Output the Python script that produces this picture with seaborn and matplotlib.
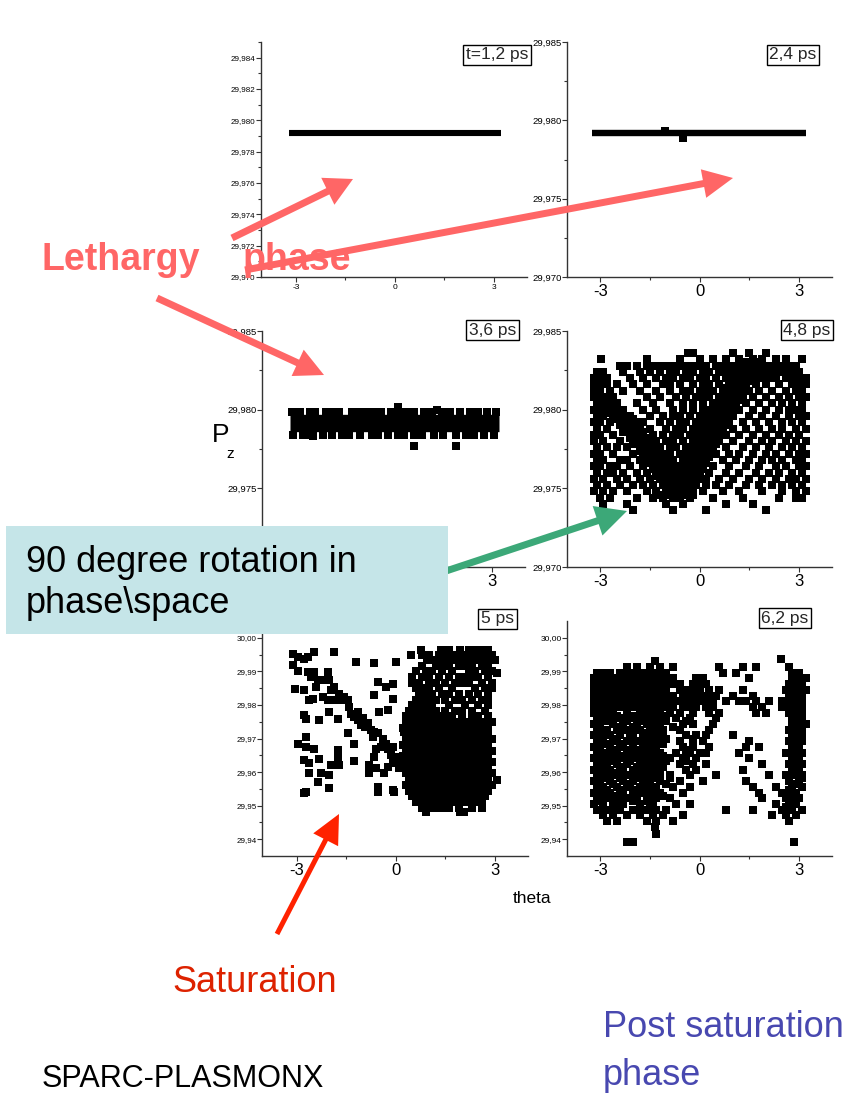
import matplotlib
matplotlib.use("Agg")
import matplotlib.pyplot as plt
import seaborn as sns
from matplotlib.patches import Rectangle, FancyArrow
from matplotlib.ticker import FixedLocator, FuncFormatter

# ---------------- data ----------------
X_TICKS = [-3, 0, 3]
X_MINOR = [-1.5, 1.5]
Y_TICKS_12 = [29.970, 29.972, 29.974, 29.976, 29.978, 29.980, 29.982, 29.984]
Y_MINOR_12 = [29.971, 29.973, 29.975, 29.977, 29.979, 29.981, 29.983, 29.985]
Y_TICKS_MID = [29.970, 29.975, 29.980, 29.985]
Y_MINOR_MID = [29.9725, 29.9775, 29.9825]
Y_TICKS_LOW = [29.94, 29.95, 29.96, 29.97, 29.98, 29.99, 30.00]
Y_MINOR_LOW = [29.945, 29.955, 29.965, 29.975, 29.985, 29.995]

LABELS = ["t=1,2 ps", "2,4 ps", "3,6 ps", "4,8 ps", "5 ps", "6,2 ps"]

# t = 1.2 ps : thin line of particles
theta_12 = [-3.2, 3.2]
pz_12 = [29.9792, 29.9792]

# t = 2.4 ps
theta_24 = [-3.25, 3.22]
pz_24 = [29.9792, 29.9792]
theta_24_pts = [-1.05, -0.5]
pz_24_pts = [29.97935, 29.9789]

# t = 3.6 ps : band
theta_36 = [-3.2, 3.2]
pz_36 = [29.97915, 29.97915]
band_top_theta = [-3.15, -2.9, -2.6, -2.45, -2.1, -1.95, -1.7, -1.3, -1.1, -0.85, -0.6,
                  -0.4, -0.1, 0.12, 0.35, 0.6, 0.9, 1.15, 1.45, 1.7, 2.0, 2.3, 2.55, 2.85, 3.1]
band_top_pz = 29.97985
band_bot_theta = [-3.1, -2.8, -2.55, -2.2, -1.9, -1.6, -1.4, -1.05, -0.7, -0.5, -0.2, 0.1,
                  0.3, 0.6, 0.85, 1.2, 1.5, 1.9, 2.2, 2.45, 2.75, 3.05]
band_bot_pz = 29.97840
out36_theta = [0.12, 0.6, 1.9, -2.5, 1.3]
out36_pz = [29.98015, 29.9777, 29.9777, 29.9783, 29.9800]

# t = 4.8 ps : rows of particles (pz -> theta)
ROWS_48 = {
    29.9836: [-0.35, -0.2, 1.0, 1.5, 2.0],
    29.9832: [-2.98, -1.6, -0.6, 0.0, 0.4, 0.8, 1.2, 1.6, 1.9, 2.3, 2.6, 3.1],
    29.9828: [-2.4, -2.2, -1.9, -1.6, -1.4, -1.2, -1.0, -0.8, -0.6, -0.4, -0.2, 0.0, 0.2,
              0.5, 0.7, 0.9, 1.1, 1.3, 1.5, 1.7, 1.9, 2.1, 2.3, 2.5, 2.7, 2.9],
    29.9824: [-3.1, -2.9, -2.3, -1.8, -1.5, -1.2, -0.9, -0.7, -0.4, -0.2, 0.1, 0.3, 0.6,
              0.8, 1.0, 1.2, 1.4, 1.6, 1.8, 2.0, 2.2, 2.4, 2.6, 2.8, 3.0],
    29.9820: [-3.2, -3.0, -2.8, -2.1, -1.7, -1.3, -1.0, -0.8, -0.5, -0.3, 0.0, 0.2, 0.5,
              0.8, 1.0, 1.3, 1.5, 1.7, 1.9, 2.1, 2.3, 2.6, 2.8, 3.0, 3.2],
    29.9816: [-3.2, -3.0, -2.8, -2.5, -2.0, -1.6, -1.1, -0.9, -0.6, -0.2, 0.1, 0.3, 0.6,
              0.9, 1.1, 1.4, 1.7, 2.0, 2.4, 2.8, 3.0, 3.2],
    29.9812: [-3.2, -3.0, -2.7, -2.3, -1.8, -1.3, -0.9, -0.5, -0.3, 0.0, 0.2, 0.4, 0.7,
              0.9, 1.2, 1.5, 1.8, 2.2, 2.6, 2.9, 3.1],
    29.9808: [-3.2, -3.0, -2.8, -2.6, -1.6, -1.2, -0.7, -0.4, -0.1, 0.1, 0.3, 0.6, 0.8,
              1.0, 1.3, 1.6, 2.0, 2.4, 2.7, 3.0, 3.2],
    29.9804: [-3.1, -2.9, -2.7, -2.5, -1.9, -1.4, -0.9, -0.5, -0.2, 0.1, 0.4, 0.6, 0.9,
              1.1, 1.4, 1.8, 2.2, 2.5, 2.8, 3.1],
    29.9800: [-3.2, -3.0, -2.8, -2.5, -2.3, -1.7, -1.3, -0.8, -0.5, -0.2, 0.1, 0.3, 0.5,
              0.8, 1.2, 1.6, 2.0, 2.4, 2.7, 2.9, 3.1],
    29.9796: [-3.1, -2.9, -2.6, -2.3, -2.1, -1.5, -1.1, -0.8, -0.6, -0.3, 0.0, 0.2, 0.4,
              0.7, 1.0, 1.5, 1.9, 2.3, 2.7, 3.0, 3.2],
    29.9792: [-3.2, -3.0, -2.7, -2.2, -1.9, -1.7, -1.2, -0.9, -0.6, -0.4, -0.1, 0.1, 0.3,
              0.6, 0.9, 1.3, 1.7, 2.1, 2.5, 2.8, 3.1],
    29.9788: [-3.1, -2.8, -2.1, -1.8, -1.5, -1.0, -0.7, -0.5, -0.2, 0.0, 0.2, 0.5, 1.0,
              1.4, 1.8, 2.2, 2.5, 2.9, 3.2],
    29.9784: [-3.2, -3.0, -2.6, -2.0, -1.7, -1.4, -1.1, -0.8, -0.6, -0.3, -0.1, 0.1, 0.4,
              0.8, 1.2, 1.6, 2.0, 2.4, 2.7, 3.0],
    29.9780: [-3.2, -2.9, -2.4, -1.9, -1.5, -1.3, -1.0, -0.8, -0.5, -0.2, 0.0, 0.3, 0.6,
              1.0, 1.5, 1.9, 2.2, 2.6, 2.9, 3.2],
    29.9776: [-3.1, -2.8, -2.5, -2.2, -1.8, -1.4, -1.2, -0.9, -0.7, -0.4, -0.2, 0.1, 0.3,
              0.8, 1.3, 1.7, 2.1, 2.5, 2.8, 3.1],
    29.9772: [-3.2, -3.0, -2.6, -2.0, -1.6, -1.3, -1.1, -0.9, -0.6, -0.4, -0.1, 0.1, 0.5,
              0.9, 1.2, 1.6, 2.0, 2.3, 2.7, 3.0, 3.2],
    29.9768: [-3.1, -2.9, -2.4, -2.2, -1.8, -1.5, -1.2, -1.0, -0.8, -0.5, -0.3, 0.0, 0.2,
              0.7, 1.1, 1.5, 1.9, 2.2, 2.5, 2.9, 3.1],
    29.9764: [-3.2, -3.0, -2.7, -2.5, -2.1, -1.7, -1.4, -1.1, -0.9, -0.7, -0.5, -0.3, -0.1,
              0.1, 0.4, 0.9, 1.4, 1.8, 2.3, 2.6, 3.0, 3.2],
    29.9760: [-3.1, -2.8, -2.6, -2.3, -1.9, -1.6, -1.3, -1.0, -0.8, -0.6, -0.4, -0.2, 0.0,
              0.3, 0.8, 1.2, 1.7, 2.1, 2.4, 2.8, 3.1],
    29.9756: [-3.2, -2.9, -2.5, -2.2, -1.8, -1.5, -1.2, -1.0, -0.8, -0.6, -0.4, -0.2, 0.0,
              0.2, 0.6, 1.0, 1.5, 1.9, 2.3, 2.7, 2.9, 3.2],
    29.9752: [-3.1, -2.8, -2.4, -2.0, -1.7, -1.4, -1.1, -0.9, -0.7, -0.5, -0.3, -0.1, 0.2,
              0.5, 0.9, 1.4, 1.8, 2.2, 2.5, 2.8, 3.1],
    29.9748: [-3.2, -2.9, -2.6, -2.2, -1.6, -1.3, -1.0, -0.8, -0.6, -0.4, -0.2, 0.1, 0.7,
              1.2, 1.9, 2.5, 2.9, 3.2],
    29.9744: [-3.0, -2.7, -1.9, -1.4, -1.1, -0.8, -0.6, -0.3, 0.4, 1.3, 2.4, 2.9, 3.1],
    29.9740: [-2.9, -2.2, -1.0, -0.5, 0.8, 1.6],
    29.9736: [-2.0, -0.8, 0.2, 2.0],
}
# extra particles that form the dense V-shaped arms at t = 4.8 ps
ROWS_48_V = {
    29.9830: [1.2, 1.4, 1.6, 1.8],
    29.9826: [1.1, 1.3, 1.5, 1.7],
    29.9822: [1.0, 1.2, 1.4, 1.6],
    29.9818: [0.9, 1.1, 1.3, 1.5],
    29.9814: [0.8, 1.0, 1.2, 1.4],
    29.9810: [0.7, 0.9, 1.1, 1.3],
    29.9806: [0.6, 0.8, 1.0, 1.2],
    29.9802: [-2.6, 0.5, 0.7, 0.9, 1.1],
    29.9798: [-2.7, -2.5, -2.3, 0.4, 0.6, 0.8, 1.0],
    29.9794: [-2.6, -2.4, -2.2, -2.0, 0.3, 0.5, 0.7, 0.9],
    29.9790: [-2.4, -2.2, -2.0, -1.8, 0.2, 0.4, 0.6, 0.8],
    29.9786: [-2.3, -2.1, -1.9, -1.7, 0.1, 0.3, 0.5, 0.7],
    29.9782: [-2.1, -1.9, -1.7, -1.5, 0.0, 0.2, 0.4, 0.6],
    29.9778: [-2.0, -1.8, -1.6, -1.4, -0.1, 0.1, 0.3, 0.5],
    29.9774: [-1.8, -1.6, -1.4, -1.2, -0.2, 0.0, 0.2, 0.4],
    29.9770: [-1.7, -1.5, -1.3, -1.1, -0.3, -0.1, 0.1, 0.3],
    29.9766: [-1.6, -1.4, -1.2, -1.0, -0.4, -0.2, 0.0, 0.2],
    29.9762: [-1.4, -1.2, -1.0, -0.8, -0.5, -0.3, -0.1, 0.1],
    29.9758: [-1.3, -1.1, -0.9, -0.7, -0.5, -0.3, -0.1],
    29.9754: [-1.1, -0.9, -0.7, -0.5, -0.3, -0.1],
    29.9750: [-1.0, -0.8, -0.6, -0.4, -0.2],
    29.9746: [-1.2, -1.0, -0.8, -0.6, -0.4, -0.2],
}

# t = 5 ps : sparse particles on the left + dense bunch on the right
PTS_5 = [(-3.13, 29.9952), (-3.13, 29.9920), (-2.98, 29.9943), (-2.78, 29.9938),
         (-2.68, 29.9943), (-2.47, 29.9957), (-1.87, 29.9957), (-3.05, 29.9846),
         (-2.78, 29.9844), (-2.98, 29.9900), (-2.68, 29.9898), (-2.47, 29.9898),
         (-2.07, 29.9898), (-2.58, 29.9883), (-2.37, 29.9873), (-2.22, 29.9875),
         (-2.02, 29.9873), (-2.42, 29.9853), (-2.52, 29.9819), (-2.63, 29.9816),
         (-2.22, 29.9824), (-2.07, 29.9814), (-1.87, 29.9814), (-1.72, 29.9834),
         (-1.57, 29.9824), (-1.87, 29.9853), (-1.97, 29.9844), (-2.78, 29.9769),
         (-2.73, 29.9759), (-2.32, 29.9754), (-2.02, 29.9779), (-1.77, 29.9759),
         (-1.67, 29.9814), (-1.46, 29.9814), (-1.41, 29.9794), (-1.36, 29.9774),
         (-1.26, 29.9764), (-1.16, 29.9754), (-1.06, 29.9740), (-1.46, 29.9715),
         (-1.26, 29.9685), (-2.73, 29.9705), (-2.98, 29.9683), (-2.73, 29.9675),
         (-2.47, 29.9670), (-1.77, 29.9665), (-1.77, 29.9655), (-2.78, 29.9636),
         (-2.63, 29.9626), (-2.32, 29.9638), (-1.97, 29.9621), (-1.77, 29.9636),
         (-1.72, 29.9621), (-2.02, 29.9591), (-2.27, 29.9596), (-2.63, 29.9596),
         (-2.37, 29.9571), (-2.73, 29.9542), (-2.78, 29.9539), (-2.02, 29.9552),
         (-1.26, 29.9633), (-1.21, 29.9928), (-0.66, 29.9925), (0.00, 29.9928),
         (-0.56, 29.9868), (-0.30, 29.9853), (-0.10, 29.9863), (-0.66, 29.9829),
         (-0.08, 29.9819), (-0.51, 29.9779), (-0.25, 29.9786), (-0.56, 29.9556),
         (-0.56, 29.9542), (-0.10, 29.9547), (-0.05, 29.9542), (-0.86, 29.9745),
         (-0.76, 29.9725), (-0.66, 29.9720), (-0.71, 29.9705), (-0.56, 29.9715),
         (-0.40, 29.9700), (-0.30, 29.9685), (-0.45, 29.9675), (-0.61, 29.9670),
         (-0.25, 29.9670), (-0.10, 29.9675), (-0.66, 29.9646), (-0.81, 29.9621),
         (-0.81, 29.9596), (-0.61, 29.9611), (-0.35, 29.9596), (-0.25, 29.9616),
         (-0.10, 29.9626), (0.05, 29.9646), (0.15, 29.9636), (-0.15, 29.9650),
         (0.10, 29.9611), (-1.16, 29.9780), (-1.00, 29.9760), (-0.95, 29.9735),
         (3.05, 29.9577), (3.05, 29.9895), (0.25, 29.9720), (0.2, 29.9680)]
ROWS_5 = {
    29.9965: [0.75, 1.35, 1.6, 1.95, 2.2, 2.4, 2.6, 2.8],
    29.9950: [0.45, 0.8, 1.0, 1.3, 1.5, 1.7, 1.9, 2.1, 2.3, 2.5, 2.7, 2.9],
    29.9933: [0.95, 1.15, 1.35, 1.55, 1.75, 2.0, 2.2, 2.4, 2.6, 2.8, 3.0],
    29.9916: [0.8, 1.2, 1.4, 1.6, 1.9, 2.1, 2.3, 2.6, 2.8],
    29.9900: [0.6, 0.9, 1.1, 1.4, 1.7, 2.2, 2.4, 2.7, 2.9],
    29.9883: [0.5, 0.8, 1.0, 1.3, 1.6, 1.9, 2.1, 2.3, 2.5, 2.8],
    29.9866: [0.5, 0.7, 1.0, 1.2, 1.5, 1.8, 2.0, 2.2, 2.6, 2.9],
    29.9850: [0.6, 0.8, 1.0, 1.3, 1.7, 2.4, 2.7, 2.9],
    29.9833: [0.7, 0.9, 1.1, 1.4, 1.6, 1.9, 2.2, 2.5, 2.8],
    29.9816: [0.6, 0.8, 1.0, 1.2, 1.5, 1.8, 2.0, 2.3, 2.6, 2.8],
    29.9800: [0.5, 0.7, 0.9, 1.1, 1.6, 2.1, 2.5, 2.8],
    29.9783: [0.4, 0.6, 0.8, 1.0, 1.2, 1.5, 1.8, 2.0, 2.3, 2.7],
    29.9766: [0.3, 0.5, 0.7, 0.9, 1.1, 1.3, 1.5, 1.7, 2.0, 2.3, 2.5, 2.8],
    29.9749: [0.3, 0.5, 0.7, 0.9, 1.1, 1.3, 1.5, 1.7, 1.9, 2.1, 2.3, 2.5, 2.7, 2.9],
    29.9732: [0.2, 0.4, 0.6, 0.8, 1.0, 1.2, 1.4, 1.6, 1.8, 2.0, 2.2, 2.4, 2.6, 2.8],
    29.9715: [0.4, 0.6, 0.8, 1.0, 1.2, 1.4, 1.6, 1.8, 2.0, 2.2, 2.4, 2.6, 2.8],
    29.9698: [0.3, 0.5, 0.7, 0.9, 1.1, 1.3, 1.5, 1.7, 1.9, 2.1, 2.3, 2.5, 2.7, 2.9],
    29.9681: [0.4, 0.6, 0.8, 1.0, 1.2, 1.4, 1.6, 1.8, 2.0, 2.2, 2.4, 2.6, 2.8],
    29.9664: [0.3, 0.5, 0.7, 0.9, 1.1, 1.3, 1.5, 1.7, 1.9, 2.1, 2.3, 2.5, 2.7, 2.9],
    29.9647: [0.2, 0.4, 0.6, 0.8, 1.0, 1.2, 1.4, 1.6, 1.8, 2.0, 2.2, 2.4, 2.6, 2.8],
    29.9630: [0.3, 0.5, 0.7, 0.9, 1.1, 1.3, 1.5, 1.7, 1.9, 2.1, 2.3, 2.5, 2.7, 2.9],
    29.9613: [0.2, 0.4, 0.6, 0.8, 1.0, 1.2, 1.4, 1.6, 1.8, 2.0, 2.2, 2.4, 2.6, 2.8],
    29.9596: [0.3, 0.5, 0.7, 0.9, 1.1, 1.3, 1.5, 1.7, 1.9, 2.1, 2.3, 2.5, 2.7, 2.9],
    29.9579: [0.4, 0.6, 0.8, 1.0, 1.2, 1.4, 1.6, 1.8, 2.0, 2.2, 2.4, 2.6, 2.8],
    29.9562: [0.3, 0.5, 0.7, 0.9, 1.1, 1.3, 1.5, 1.7, 1.9, 2.1, 2.3, 2.5, 2.7, 2.9],
    29.9545: [0.4, 0.6, 0.8, 1.0, 1.2, 1.4, 1.6, 1.8, 2.0, 2.2, 2.4, 2.6, 2.8],
    29.9528: [0.5, 0.7, 0.9, 1.1, 1.3, 1.5, 1.7, 1.9, 2.1, 2.3, 2.5, 2.7],
    29.9511: [0.6, 0.8, 1.0, 1.2, 1.4, 1.6, 1.8, 2.0, 2.2, 2.4, 2.6],
    29.9494: [0.8, 1.0, 1.2, 1.4, 1.6, 1.9, 2.3, 2.6],
    29.9480: [0.9, 1.95, 2.05],
}

# t = 6.2 ps
ROWS_62 = {
    29.9938: [2.45],
    29.9930: [-1.35],
    29.9913: [-2.2, -1.9, -1.5, -1.2, -0.8, 0.6, 1.3, 1.7, 2.7],
    29.9896: [-3.1, -2.9, -2.7, -2.4, -2.2, -2.0, -1.8, -1.6, -1.4, -1.2, -1.0, 0.7, 1.1, 2.8, 3.0],
    29.9879: [-3.2, -3.0, -2.8, -2.6, -2.4, -2.2, -2.0, -1.8, -1.6, -1.4, -1.2, -1.0, -0.8,
              -0.1, 0.1, 1.5, 2.8, 3.0, 3.2],
    29.9862: [-3.2, -3.0, -2.8, -2.6, -2.4, -2.2, -2.0, -1.8, -1.6, -1.4, -1.2, -1.0, -0.8,
              -0.6, -0.2, 0.0, 0.2, 2.7, 2.9, 3.1],
    29.9845: [-3.2, -3.0, -2.8, -2.6, -2.4, -2.2, -2.0, -1.8, -1.6, -1.4, -1.2, -1.0, -0.6,
              -0.4, -0.2, 0.0, 0.3, 0.6, 1.3, 2.6, 2.8, 3.0, 3.2],
    29.9828: [-3.2, -3.0, -2.8, -2.6, -2.4, -2.2, -2.0, -1.8, -1.6, -1.4, -1.2, -1.0, -0.8,
              -0.5, -0.3, -0.1, 0.1, 0.3, 0.5, 1.0, 1.6, 2.7, 2.9, 3.1],
    29.9811: [-3.2, -3.0, -2.8, -2.6, -2.4, -2.2, -2.0, -1.8, -1.6, -1.4, -1.2, -1.0, -0.8,
              -0.6, -0.4, -0.2, 0.0, 0.2, 0.4, 0.8, 1.2, 1.4, 1.7, 2.1, 2.5, 2.7, 2.9, 3.1],
    29.9794: [-3.2, -3.0, -2.8, -2.6, -2.4, -2.2, -2.0, -1.8, -1.6, -1.4, -1.2, -1.0, -0.8,
              -0.5, -0.3, -0.1, 0.2, 0.4, 1.6, 1.9, 2.5, 2.7, 2.9, 3.1],
    29.9777: [-3.2, -3.0, -2.8, -2.6, -2.2, -1.8, -1.6, -1.4, -1.2, -0.9, -0.6, -0.2, 0.3,
              0.6, 1.7, 2.0, 2.7, 2.9, 3.1],
    29.9760: [-3.1, -2.9, -2.7, -2.4, -2.1, -1.7, -1.5, -1.3, -1.1, -0.7, -0.3, 0.5, 2.8, 3.0],
    29.9743: [-3.2, -3.0, -2.6, -2.3, -1.9, -1.6, -1.4, -1.2, -0.5, -0.2, 0.4, 2.8, 3.0, 3.2],
    29.9726: [-3.1, -2.8, -2.5, -2.2, -1.8, -1.5, -1.3, -1.1, -0.6, 0.3, 2.7, 2.9, 3.1],
    29.9709: [-3.2, -3.0, -2.7, -2.4, -2.0, -1.7, -1.5, -1.3, -0.4, -0.1, 0.2, 1.0, 2.8, 3.0],
    29.9692: [-3.1, -2.9, -2.6, -2.2, -1.8, -1.6, -1.4, -1.2, -0.6, 0.1, 1.5, 2.7, 2.9, 3.1],
    29.9675: [-3.2, -3.0, -2.7, -2.4, -2.0, -1.7, -1.5, -1.3, -0.5, -0.2, 0.3, 1.4, 1.8, 2.8, 3.0],
    29.9658: [-3.1, -2.8, -2.5, -2.1, -1.9, -1.6, -1.4, -1.2, -0.7, -0.3, 0.0, 0.2, 1.2,
              2.6, 2.9, 3.1],
    29.9641: [-3.2, -3.0, -2.6, -2.3, -2.0, -1.7, -1.5, -1.3, -0.9, -0.5, -0.1, 1.5, 2.8, 3.0],
    29.9624: [-3.1, -2.9, -2.5, -2.2, -1.8, -1.6, -1.4, -1.2, -0.6, -0.2, 0.2, 1.9, 2.7,
              2.9, 3.1],
    29.9607: [-3.2, -3.0, -2.7, -2.4, -2.0, -1.7, -1.5, -1.3, -0.4, -0.1, 1.3, 2.8, 3.0],
    29.9590: [-3.1, -2.8, -2.5, -2.2, -1.9, -1.6, -1.4, -0.9, -0.3, 0.5, 2.1, 2.6, 2.9, 3.1],
    29.9573: [-3.2, -3.0, -2.7, -2.3, -2.0, -1.7, -1.5, -1.2, -0.6, 0.1, 1.4, 2.7, 3.0],
    29.9556: [-3.1, -2.9, -2.5, -2.1, -1.8, -1.6, -1.3, -0.8, -0.3, 1.6, 2.3, 2.8, 3.1],
    29.9539: [-3.2, -3.0, -2.7, -2.4, -2.0, -1.7, -1.5, -1.2, -0.5, 1.8, 2.5, 2.9],
    29.9522: [-3.1, -2.8, -2.6, -2.2, -1.9, -1.5, -1.3, -0.9, 1.9, 2.6, 2.8, 3.0],
    29.9505: [-3.2, -2.9, -2.6, -2.3, -1.8, -1.4, -0.7, -0.3, 2.3, 2.7, 2.9],
    29.9488: [-3.1, -2.7, -2.4, -2.0, -1.6, -1.3, -1.0, 0.8, 1.6, 2.5, 2.8, 3.1],
    29.9471: [-2.9, -2.6, -2.2, -1.8, -1.4, -1.1, -0.5, 2.2, 2.6, 2.9],
    29.9454: [-2.8, -2.5, -1.6, -1.3, -0.8, 2.7],
    29.9437: [-1.35],
    29.9415: [-1.3],
    29.9393: [-2.2, -2.0, 2.85],
}
# extra particles filling the lower-left bunch and right column at t = 6.2 ps
ROWS_62_X = {
    29.9768: [-3.0, -2.5, -2.0, -1.4, -1.0, 2.9],
    29.9751: [-2.8, -2.2, -1.8, -1.0, -0.4, 3.1],
    29.9734: [-3.0, -2.4, -2.0, -1.4, -0.8, 2.9],
    29.9717: [-2.9, -2.1, -1.6, -1.1, 3.1],
    29.9700: [-3.0, -2.5, -2.0, -1.4, -1.0, -0.2, 2.9],
    29.9683: [-2.8, -2.3, -1.5, -1.1, 3.0],
    29.9666: [-3.0, -2.6, -2.2, -1.8, -1.4, -0.4, 2.8],
    29.9649: [-2.8, -2.4, -1.9, -1.5, -1.1, 3.0],
    29.9632: [-3.0, -2.7, -2.1, -1.6, -1.0, -0.4, 2.8],
    29.9615: [-2.8, -2.3, -1.9, -1.4, -1.1, 3.0],
    29.9598: [-3.0, -2.6, -2.0, -1.5, -1.2, 2.8],
    29.9581: [-2.9, -2.4, -1.8, -1.4, -0.9, 3.1],
    29.9564: [-3.0, -2.6, -2.2, -1.5, -1.0, 2.9],
    29.9547: [-2.8, -2.3, -1.9, -1.4, 2.7],
    29.9530: [-3.0, -2.5, -2.0, -1.6, -1.1, 2.9],
    29.9513: [-3.0, -2.4, -2.0, -1.6, 2.8],
    29.9496: [-2.9, -2.5, -1.8, -1.5, 2.6],
}


def expand(*rows_list):
    th, pz = [], []
    for rows in rows_list:
        for p, ts in rows.items():
            th.extend(ts)
            pz.extend([p] * len(ts))
    return th, pz


# ---------------- figure ----------------
sns.set_style("ticks")
plt.rcParams['font.family'] = ['Liberation Sans', 'DejaVu Sans']
plt.rcParams['axes.edgecolor'] = '#333333'
plt.rcParams['xtick.color'] = '#333333'
plt.rcParams['ytick.color'] = '#333333'
plt.rcParams['xtick.labelcolor'] = 'black'
plt.rcParams['ytick.labelcolor'] = 'black'

W, H = 852, 1095
fig = plt.figure(figsize=(W / 100, H / 100), dpi=100)


def ax_at(l, t, r, b):
    return fig.add_axes([l / W, 1 - b / H, (r - l) / W, (b - t) / H])


def style(ax, xlim, ylim, yt, ym, dec, yfs, xfs):
    ax.set_xlim(*xlim)
    ax.set_ylim(*ylim)
    ax.xaxis.set_major_locator(FixedLocator(X_TICKS))
    ax.xaxis.set_minor_locator(FixedLocator(X_MINOR))
    ax.yaxis.set_major_locator(FixedLocator(yt))
    ax.yaxis.set_minor_locator(FixedLocator(ym))
    ax.yaxis.set_major_formatter(FuncFormatter(lambda v, p: f"{v:.{dec}f}".replace('.', ',')))
    ax.xaxis.set_major_formatter(FuncFormatter(lambda v, p: f"{v:.0f}"))
    sns.despine(ax=ax)
    for s in ('left', 'bottom'):
        ax.spines[s].set_linewidth(1.0)
    ax.set_xlabel('')
    ax.set_ylabel('')
    ax.tick_params(axis='y', which='major', length=3.5, width=0.8, pad=0.5, labelsize=yfs)
    ax.tick_params(axis='y', which='minor', length=2.5, width=0.8)
    ax.tick_params(axis='x', which='major', length=3.5, width=0.8, pad=1.5, labelsize=xfs)
    ax.tick_params(axis='x', which='minor', length=2.5, width=0.8)
    ax.set_facecolor('none')


SQ = dict(marker='s', s=28, color='black', linewidth=0, legend=False)

# panel 1
ax1 = ax_at(261, 42, 527, 277)
sns.lineplot(x=theta_12, y=pz_12, ax=ax1, color='black', lw=4.4, solid_capstyle='butt')
style(ax1, (-4.06, 4.0), (29.970, 29.985), Y_TICKS_12, Y_MINOR_12, 3, 5.8, 6)

# panel 2
ax2 = ax_at(567, 42, 832, 277)
sns.lineplot(x=theta_24, y=pz_24, ax=ax2, color='black', lw=4.6, solid_capstyle='butt')
sns.scatterplot(x=theta_24_pts, y=pz_24_pts, ax=ax2, **SQ)
style(ax2, (-4.0, 4.0), (29.970, 29.985), Y_TICKS_MID, Y_MINOR_MID, 3, 6.8, 12)

# panel 3
ax3 = ax_at(262, 331, 525, 567)
sns.lineplot(x=theta_36, y=pz_36, ax=ax3, color='black', lw=12.5, solid_capstyle='butt')
sns.scatterplot(x=band_top_theta, y=[band_top_pz] * len(band_top_theta), ax=ax3, **SQ)
sns.scatterplot(x=band_bot_theta, y=[band_bot_pz] * len(band_bot_theta), ax=ax3, **SQ)
sns.scatterplot(x=out36_theta, y=out36_pz, ax=ax3, **SQ)
style(ax3, (-4.06, 4.0), (29.970, 29.985), Y_TICKS_MID, Y_MINOR_MID, 3, 6.8, 12)

# panel 4
ax4 = ax_at(567, 331, 832, 567)
t48, p48 = expand(ROWS_48, ROWS_48_V)
sns.scatterplot(x=t48, y=p48, ax=ax4, **SQ)
style(ax4, (-4.0, 4.0), (29.970, 29.985), Y_TICKS_MID, Y_MINOR_MID, 3, 6.8, 12)

# panel 5
ax5 = ax_at(262, 621, 528, 856)
t5, p5 = expand(ROWS_5)
sns.scatterplot(x=t5 + [p[0] for p in PTS_5], y=p5 + [p[1] for p in PTS_5], ax=ax5, **SQ)
style(ax5, (-4.06, 4.0), (29.935, 30.005), Y_TICKS_LOW, Y_MINOR_LOW, 2, 5.8, 12)

# panel 6
ax6 = ax_at(567, 621, 832, 856)
t62, p62 = expand(ROWS_62, ROWS_62_X)
sns.scatterplot(x=t62, y=p62, ax=ax6, **SQ)
style(ax6, (-4.0, 4.0), (29.935, 30.005), Y_TICKS_LOW, Y_MINOR_LOW, 2, 6, 12)

# ---------------- overlay (annotations) ----------------
ov = fig.add_axes([0, 0, 1, 1])
ov.set_xlim(0, W)
ov.set_ylim(H, 0)
ov.axis('off')
ov.patch.set_alpha(0)


def arrow(x0, y0, x1, y1, color, w, hw, hl, z):
    ov.add_patch(FancyArrow(x0, y0, x1 - x0, y1 - y0, width=w, head_width=hw, head_length=hl,
                            length_includes_head=True, color=color, lw=0, zorder=z))


SALMON = '#FF6666'
arrow(440, 573, 627, 511, '#3CA878', 7, 31, 31, 1)
ov.add_patch(Rectangle((6, 526), 442, 108, facecolor='#C5E5E8', edgecolor='none', zorder=2))
ov.text(26, 572, "90 degree rotation in", fontsize=26, color='black', zorder=3)
ov.text(26, 613, "phase\\space", fontsize=26, color='black', zorder=3)

arrow(232, 238, 353, 179, SALMON, 7, 30, 28, 4)
arrow(245, 270, 733, 178, SALMON, 7, 29, 30, 4)
arrow(157, 298, 324, 375, SALMON, 7, 29, 29, 4)
arrow(277, 934, 339, 814, '#FF2200', 5, 28, 29, 4)

ov.text(42, 270, "Lethargy", fontsize=27, fontweight='bold', color=SALMON, zorder=5)
ov.text(243, 270, "phase", fontsize=27, fontweight='bold', color=SALMON, zorder=5)
ov.text(172, 992, "Saturation", fontsize=26, color='#DD2200', zorder=5)
ov.text(603, 1037, "Post saturation", fontsize=26, color='#4848B0', zorder=5)
ov.text(603, 1085, "phase", fontsize=26, color='#4848B0', zorder=5)
ov.text(42, 1087, "SPARC-PLASMONX", fontsize=22, color='black', zorder=5)
ov.text(513, 903, "theta", fontsize=12.5, color='black', zorder=5)
ov.text(212, 442, "P", fontsize=19, color='black', zorder=5)
ov.text(226, 458, "z", fontsize=11, color='black', zorder=5)

BOX = dict(boxstyle='square,pad=0.15', facecolor='white', edgecolor='black', linewidth=1)
label_pos = [(497, 55), (793, 55), (492.5, 330), (807, 330), (497.5, 619), (785, 618)]
for (x, y), lab in zip(label_pos, LABELS):
    ov.text(x, y, lab, fontsize=12.5, ha='center', va='center', bbox=BOX, zorder=5)

fig.savefig("out.png", dpi=100)
